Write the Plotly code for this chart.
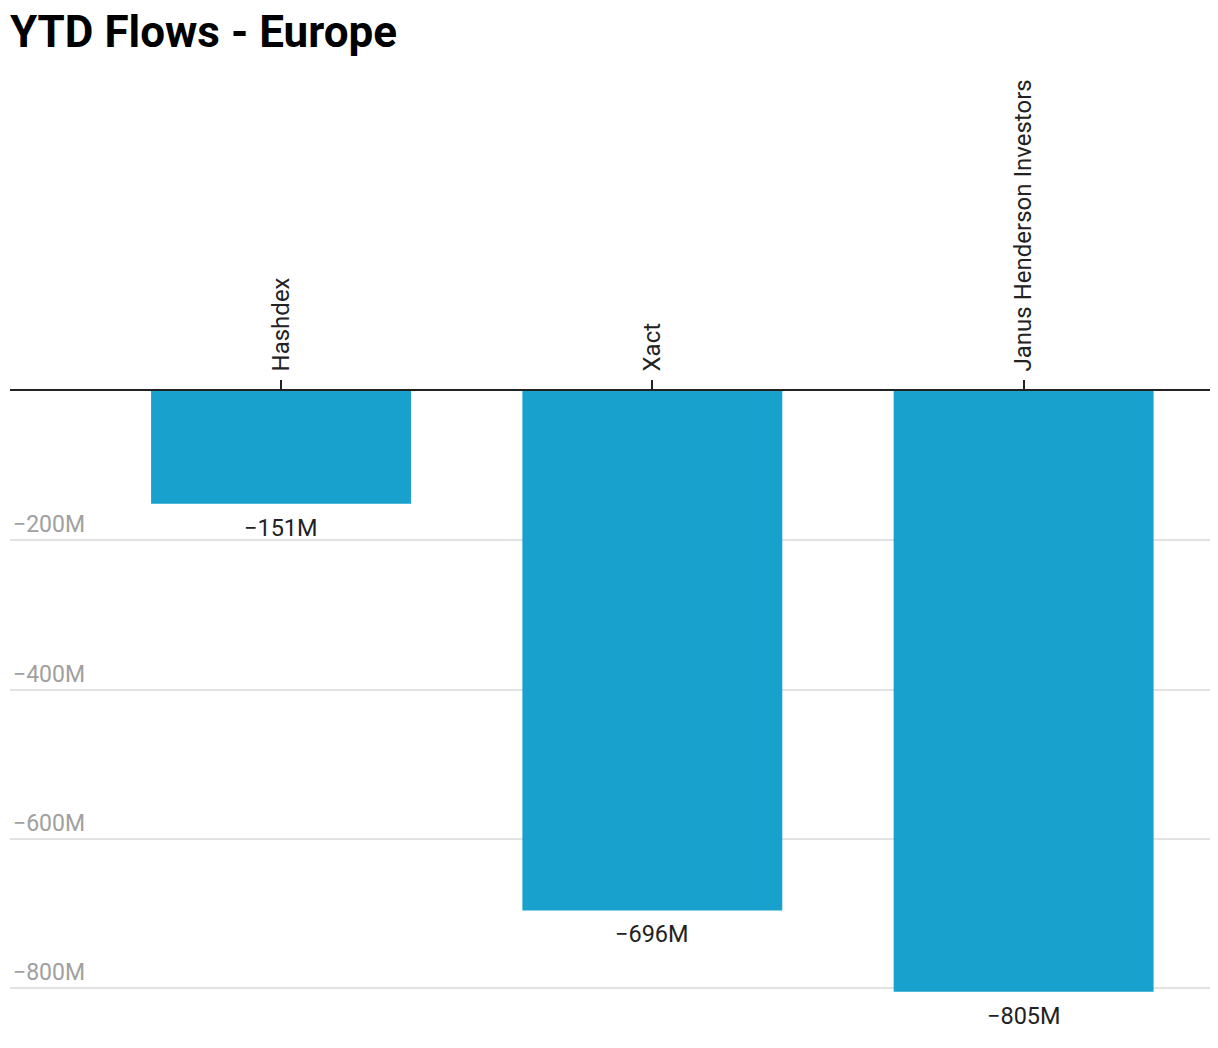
import plotly.graph_objects as go

categories = ["Hashdex", "Xact", "Janus Henderson Investors"]
values = [-151, -696, -805]
value_labels = ["\u2212151M", "\u2212696M", "\u2212805M"]
y_tick_vals = [-800, -600, -400, -200]
y_tick_text = ["\u2212800M", "\u2212600M", "\u2212400M", "\u2212200M"]

BAR = "#18a1cd"
FONT = "Roboto"

fig = go.Figure()
fig.add_trace(go.Bar(
    x=categories, y=values, marker=dict(color=BAR, line=dict(width=0)),
    width=0.7, hoverinfo="skip", cliponaxis=False,
))
for c, v, t in zip(categories, values, value_labels):
    fig.add_annotation(x=c, y=v, text=t, showarrow=False, yanchor="top",
                       yshift=-8, font=dict(family=FONT, size=23.5, color="#222"))

fig.update_layout(
    width=1218, height=1048,
    margin=dict(l=10, r=8, t=391, b=45),
    paper_bgcolor="white", plot_bgcolor="white",
    showlegend=False,
    title=dict(text="<b>YTD Flows - Europe</b>", x=10/1218, xanchor="left",
               xref="container", yref="container", y=1 - 32/1048, yanchor="middle",
               font=dict(family=FONT, size=44, color="#000")),
    font=dict(family=FONT),
)
fig.update_xaxes(
    side="top", type="category", range=[-0.730, 2.502],
    tickangle=-90, ticks="outside", ticklen=9, tickwidth=1.5, tickcolor="#222",
    ticklabelstandoff=4,
    showline=True, linecolor="#222", linewidth=1.5, showgrid=False,
    tickfont=dict(family=FONT, size=24, color="#222"),
)
fig.update_yaxes(
    range=[-820, 0], tickvals=y_tick_vals, ticktext=y_tick_text,
    ticklabelposition="inside top", showgrid=True, gridcolor="#e2e2e2", gridwidth=1.5,
    zeroline=False, showline=False, ticks="",
    tickfont=dict(family=FONT, size=23, color="#a0a0a0"),
)
fig.write_html("out.html", config={"displayModeBar": False},
               post_script="document.body.style.margin='0';")
